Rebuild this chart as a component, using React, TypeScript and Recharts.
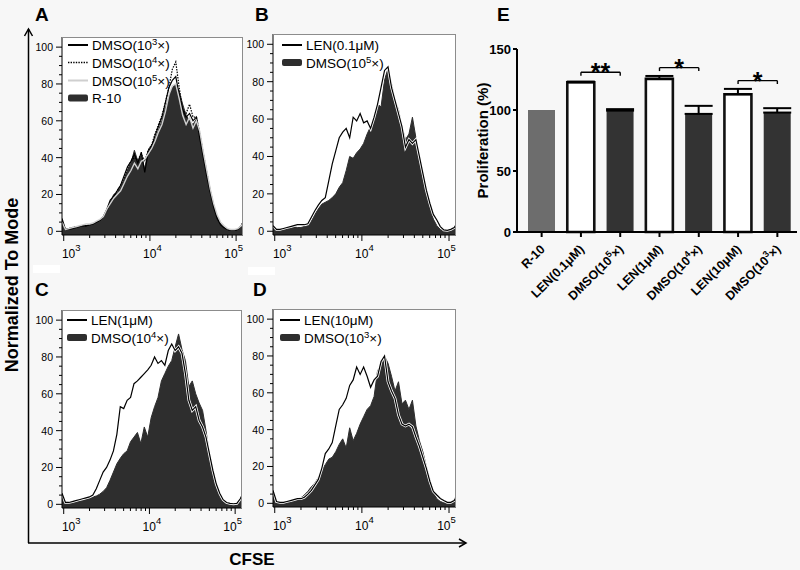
import React from "react";
import {
  Area,
  Bar,
  BarChart,
  Cell,
  ComposedChart,
  ErrorBar,
  Line,
  ReferenceLine,
  XAxis,
  YAxis,
} from "recharts";

const FONT = '"Liberation Sans", Arial, Helvetica, sans-serif';
const FILL_DARK = "#2e2e2e";

// CFSE bins (log10 of intensity)
const cfseLog = [
  2.98, 3.02, 3.06, 3.1, 3.14, 3.18, 3.22, 3.26, 3.3, 3.34, 3.38, 3.42, 3.46,
  3.5, 3.54, 3.58, 3.62, 3.66, 3.7, 3.74, 3.78, 3.82, 3.86, 3.9, 3.94, 3.98,
  4.02, 4.06, 4.1, 4.14, 4.18, 4.22, 4.26, 4.3, 4.34, 4.38, 4.42, 4.46, 4.5,
  4.54, 4.58, 4.62, 4.66, 4.7, 4.74, 4.78, 4.82, 4.86, 4.9, 4.94, 4.98, 5.02,
  5.06, 5.1,
];

// panel A
const aR10 = [
  6, 1, 1.5, 2, 2.5, 2.5, 3, 3, 3.5, 4, 5, 6, 8, 11, 16, 20, 21, 24, 28, 33,
  37, 44, 38, 41, 34, 44, 47, 50, 55, 60, 67, 73, 78, 80, 76, 69, 63, 60, 58,
  61, 52, 42, 32, 22, 14, 8, 4, 2, 1, 0.5, 0.5, 1, 3, 7,
];
const aDmso3 = [
  7, 1, 1, 1.5, 2, 2.5, 3, 3, 3.5, 4, 5, 6, 8, 12, 17, 19, 22, 25, 30, 35, 38,
  42, 37, 43, 32, 43, 46, 52, 57, 62, 70, 78, 82, 84, 74, 66, 62, 64, 60, 62,
  50, 40, 30, 21, 13, 7, 3.5, 2, 1, 0.5, 0.5, 1, 3, 7,
];
const aDmso4 = [
  6, 1, 1.5, 2, 2.5, 2.5, 3, 3, 3.5, 4, 5, 6, 8, 11, 15, 19, 22, 25, 29, 34,
  38, 40, 39, 42, 38, 44, 47, 53, 58, 63, 70, 78, 88, 92, 78, 66, 64, 69, 62,
  62, 53, 42, 32, 22, 14, 8, 4, 2, 1, 0.5, 0.5, 1, 3, 7,
];
const aDmso5 = [
  5, 1, 1.5, 2, 2.5, 3, 3.5, 4, 4, 4.5, 5.5, 6.5, 8, 12, 15, 18, 20, 22, 26,
  30, 33, 37, 34, 38, 39, 42, 45, 49, 54, 58, 65, 74, 79, 80, 72, 63, 58, 62,
  56, 60, 54, 43, 33, 23, 15, 9, 5, 3, 1.5, 1, 1, 1.5, 3, 6,
];

// panel B
const bDmso5 = [
  3, 1, 1, 1.5, 2, 2.5, 2.5, 2, 2, 2.5, 3, 5.5, 9, 12, 14.5, 15.5, 16.5, 18,
  20, 23.5, 26, 32.5, 40, 39, 42, 44, 47, 52, 56, 61, 68, 66.5, 81, 87, 79, 70,
  65, 56, 49, 52, 61, 50, 40, 31, 21, 13, 6.5, 3, 1, 0.5, 0.5, 1, 2, 5,
];
const bLen01 = [
  3, 1, 1, 1.5, 2, 2.5, 3, 3.5, 3.5, 3.5, 4, 7.5, 11, 14, 16.5, 18, 27, 36, 43,
  50, 53, 55, 50, 61, 59, 63, 58, 59, 55, 61, 68, 77, 86, 88, 77, 70, 63, 56,
  45, 49, 47, 49, 40, 31, 22, 15, 9, 6, 2.5, 0.7, 0.5, 1, 2, 5,
];

// panel C
const cDmso4 = [
  6, 1, 1, 1.5, 1.5, 2, 2.5, 3, 3.5, 4, 4.5, 5.5, 7, 9, 13, 17.5, 22, 25, 27.5,
  29, 34, 36.5, 39, 33, 42, 36.5, 47, 53, 58, 67, 71, 75, 78, 85.5, 92.5, 84,
  78, 64, 67, 60, 55, 51, 40, 27.5, 16.5, 9.5, 4, 1.5, 0.5, 0.3, 0.3, 0.5, 3, 7,
];
const cLen1 = [
  6, 1, 1, 1.5, 2, 2.5, 3, 3.5, 4, 5, 8.5, 13, 17.5, 20, 24, 29, 38, 53, 52,
  56.5, 58, 65.5, 67, 69, 71, 73, 75.5, 80, 76.5, 78, 75.5, 83.5, 87, 83.5,
  85.5, 82, 71, 56.5, 51, 53, 45.5, 42, 36.5, 27.5, 18.5, 11, 6, 2.5, 1, 0.5,
  0.3, 0.5, 3, 7,
];

// panel D
const dDmso3 = [
  7, 1, 0.5, 0.5, 1, 1.5, 2, 2.5, 3, 4.5, 6.5, 9, 11, 14, 18, 21, 24, 25, 28,
  32, 35, 30, 41, 34, 38, 43, 47, 51, 53, 58, 72, 75, 80, 76, 69, 61, 66, 54,
  56, 51, 56, 42, 34, 28, 20, 13, 6, 2.5, 1, 0.3, 0.3, 0.5, 2, 6,
];
const dLen10 = [
  7, 1, 0.5, 0.5, 1, 1.5, 2, 2.5, 2.5, 3.3, 5, 7, 10, 13, 19, 27, 29.5, 33, 42,
  51, 53.5, 57, 64, 67, 74, 70, 74, 69, 63, 67, 69, 77, 80, 66, 61, 57, 48, 43,
  42, 43, 41.5, 36, 31, 25, 19, 12, 6.5, 4.5, 2.6, 1.5, 0.5, 0.5, 1.5, 5,
];

const decades = [3, 4, 5];
const countTicks = [
  0, 5, 10, 15, 20, 25, 30, 35, 40, 45, 50, 55, 60, 65, 70, 75, 80, 85, 90, 95,
  100,
];

// panel E
const groups = [
  "R-10",
  "LEN(0.1μM)",
  "DMSO(10⁵×)",
  "LEN(1μM)",
  "DMSO(10⁴×)",
  "LEN(10μM)",
  "DMSO(10³×)",
];
const groupKind = ["ctrl", "len", "dmso", "len", "dmso", "len", "dmso"];
const proliferation = [100, 122.7, 99.5, 125.5, 96.8, 112.9, 97.9];
const proliferationErr = [0, 0.6, 1.2, 2.4, 6.6, 4.4, 3.6];
const proliferationTicks = [0, 50, 100, 150];

const sigFrom = ["LEN(0.1μM)", "LEN(1μM)", "LEN(10μM)"];
const sigTo = ["DMSO(10⁵×)", "DMSO(10⁴×)", "DMSO(10³×)"];
const sigLevel = [130.9, 134.7, 124.1];
const sigMark = ["**", "*", "*"];

const X_DOMAIN: [number, number] = [2.98, 5.08];
const Y_DOMAIN: [number, number] = [-2, 105.5];

const minorTicks = decades
  .slice(0, -1)
  .flatMap((d) => [2, 3, 4, 5, 6, 7, 8, 9].map((k) => d + Math.log10(k)));
const logTicks = [...decades, ...minorTicks].sort((a, b) => a - b);

const SUP: Record<string, string> = { "³": "3", "⁴": "4", "⁵": "5" };

function supSpans(text: string, size: number, supSize: number, rise: number) {
  const segs: { t: string; sup: boolean }[] = [];
  for (const ch of Array.from(text)) {
    const sup = ch in SUP;
    const c = sup ? SUP[ch] : ch;
    const last = segs[segs.length - 1];
    if (last && last.sup === sup) last.t += c;
    else segs.push({ t: c, sup });
  }
  return segs.map((s, i) => {
    const prevSup = i > 0 && segs[i - 1].sup;
    const dy = s.sup ? -rise : prevSup ? rise : 0;
    return (
      <tspan key={i} dy={dy} fontSize={s.sup ? supSize : size}>
        {s.t}
      </tspan>
    );
  });
}

function LogTick(props: any) {
  const { x, y, payload } = props;
  const v = payload.value as number;
  const major = Math.abs(v - Math.round(v)) < 1e-6;
  return (
    <g>
      <line x1={x} x2={x} y1={y} y2={y + (major ? 6 : 3)} stroke="#000" strokeWidth={1} />
      {major && (
        <text
          x={x + 2.5 - 5 * (v - 4)}
          y={y + 23}
          textAnchor="middle"
          fontFamily={FONT}
          fontSize={12}
          fill="#000"
        >
          10
          <tspan dy={-7} fontSize={9.5}>
            {v}
          </tspan>
        </text>
      )}
    </g>
  );
}

function CountTick(props: any) {
  const { x, y, payload } = props;
  const v = payload.value as number;
  const major = v % 20 === 0;
  return (
    <g>
      <line x1={x - (major ? 6 : 3)} x2={x} y1={y} y2={y} stroke="#000" strokeWidth={1} />
      {major && (
        <text x={x - 9} y={y + 4} textAnchor="end" fontFamily={FONT} fontSize={10.5} fill="#000">
          {v}
        </text>
      )}
    </g>
  );
}

function GroupTick(props: any) {
  const { x, y, payload } = props;
  return (
    <g transform={`translate(${x},${y})`}>
      <line x1={0} x2={0} y1={0} y2={5} stroke="#000" strokeWidth={2} />
      <text
        transform="translate(4,18) rotate(-45)"
        textAnchor="end"
        fontFamily={FONT}
        fontSize={12.5}
        fontWeight="bold"
        fill="#000"
      >
        {supSpans(payload.value, 12.5, 9, 5)}
      </text>
    </g>
  );
}

type HistLine = { key: string; stroke: string; dash?: string; halo?: boolean; width?: number };

function Histogram({
  left,
  top,
  width,
  height,
  series,
  fillKey,
  lines,
}: {
  left: number;
  top: number;
  width: number;
  height: number;
  series: Record<string, number[]>;
  fillKey: string;
  lines: HistLine[];
}) {
  const yW = 36;
  const pad = 4;
  const xH = 30;
  const rows = cfseLog.map((x, i) => {
    const row: Record<string, number> = { x };
    Object.keys(series).forEach((k) => (row[k] = series[k][i]));
    return row;
  });
  return (
    <div style={{ position: "absolute", left: left - yW, top: top - pad }}>
      <div
        style={{ position: "absolute", left: yW, top: pad, width, height, background: "#fff" }}
      />
      <div style={{ position: "absolute", left: 0, top: 0 }}>
        <ComposedChart
          width={yW + width + pad}
          height={pad + height + xH}
          data={rows}
          margin={{ top: pad, right: pad, bottom: 0, left: 0 }}
        >
          <XAxis
            type="number"
            dataKey="x"
            domain={X_DOMAIN}
            ticks={logTicks}
            interval={0}
            tickSize={0}
            tickMargin={0}
            tickLine={false}
            tick={LogTick}
            axisLine={{ stroke: "#000", strokeWidth: 1.2 }}
            height={xH}
            allowDataOverflow
          />
          <YAxis
            type="number"
            domain={Y_DOMAIN}
            ticks={countTicks}
            interval={0}
            tickSize={0}
            tickMargin={0}
            tickLine={false}
            tick={CountTick}
            axisLine={{ stroke: "#000", strokeWidth: 1 }}
            width={yW}
            allowDataOverflow
          />
          <Area
            dataKey={fillKey}
            type="linear"
            baseValue={Y_DOMAIN[0]}
            fill={FILL_DARK}
            fillOpacity={1}
            stroke={FILL_DARK}
            strokeWidth={1}
            dot={false}
            activeDot={false}
            isAnimationActive={false}
          />
          {lines
            .filter((l) => l.halo)
            .map((l) => (
              <Line
                key={l.key + "-halo"}
                dataKey={l.key}
                type="linear"
                stroke="#ffffff"
                strokeWidth={2.8}
                dot={false}
                activeDot={false}
                isAnimationActive={false}
              />
            ))}
          {lines.map((l) => (
            <Line
              key={l.key}
              dataKey={l.key}
              type="linear"
              stroke={l.stroke}
              strokeWidth={l.width ?? 1.2}
              strokeDasharray={l.dash}
              dot={false}
              activeDot={false}
              isAnimationActive={false}
            />
          ))}
        </ComposedChart>
      </div>
      <div
        style={{
          position: "absolute",
          left: yW,
          top: pad,
          width,
          height,
          borderTop: "1px solid #8c8c8c",
          borderRight: "1px solid #8c8c8c",
          boxSizing: "border-box",
          pointerEvents: "none",
        }}
      />
    </div>
  );
}

function ProliferationChart() {
  const rows = groups.map((name, i) => ({
    name,
    value: proliferation[i],
    err: proliferationErr[i] > 0 ? [0, proliferationErr[i]] : 0,
  }));
  const style: Record<string, { fill: string; stroke: string; strokeWidth: number }> = {
    ctrl: { fill: "#6d6d6d", stroke: "#6d6d6d", strokeWidth: 0 },
    len: { fill: "#ffffff", stroke: "#111111", strokeWidth: 2.6 },
    dmso: { fill: "#333333", stroke: "#333333", strokeWidth: 0 },
  };
  const brackets = sigFrom.flatMap((from, i) => {
    const to = sigTo[i];
    const yv = sigLevel[i];
    return [
      <ReferenceLine
        key={`h${i}`}
        segment={[
          { x: from, y: yv },
          { x: to, y: yv },
        ]}
        stroke="#000"
        strokeWidth={1.4}
        ifOverflow="visible"
        label={{
          value: sigMark[i],
          position: "top",
          offset: -9,
          fontSize: 25,
          fontWeight: "bold",
          fill: "#000",
          fontFamily: FONT,
        }}
      />,
      <ReferenceLine
        key={`l${i}`}
        segment={[
          { x: from, y: yv },
          { x: from, y: yv - 2.8 },
        ]}
        stroke="#000"
        strokeWidth={1.4}
        ifOverflow="visible"
      />,
      <ReferenceLine
        key={`r${i}`}
        segment={[
          { x: to, y: yv },
          { x: to, y: yv - 2.8 },
        ]}
        stroke="#000"
        strokeWidth={1.4}
        ifOverflow="visible"
      />,
    ];
  });
  return (
    <div style={{ position: "absolute", left: 465, top: 40 }}>
      <BarChart
        width={335}
        height={272}
        data={rows}
        margin={{ top: 9, right: 3, bottom: 0, left: 0 }}
      >
        <XAxis
          dataKey="name"
          type="category"
          interval={0}
          tickSize={0}
          tickMargin={0}
          tickLine={false}
          tick={GroupTick}
          axisLine={{ stroke: "#000", strokeWidth: 2 }}
          height={80}
          padding={{ left: 5, right: 0 }}
        />
        <YAxis
          type="number"
          domain={[0, 150]}
          ticks={proliferationTicks}
          interval={0}
          width={52}
          tickSize={4}
          tickMargin={2}
          axisLine={{ stroke: "#000", strokeWidth: 2 }}
          tickLine={{ stroke: "#000", strokeWidth: 2 }}
          tick={{ fill: "#000", fontSize: 13, fontWeight: "bold", fontFamily: FONT }}
          label={{
            value: "Proliferation (%)",
            angle: -90,
            position: "center",
            dx: -8,
            fontSize: 15,
            fontWeight: "bold",
            fill: "#000",
            fontFamily: FONT,
          }}
        />
        <Bar dataKey="value" barSize={27} isAnimationActive={false}>
          {rows.map((r, i) => (
            <Cell key={r.name} {...style[groupKind[i]]} />
          ))}
          <ErrorBar dataKey="err" width={14} stroke="#000" strokeWidth={2} direction="y" />
        </Bar>
        {brackets}
      </BarChart>
    </div>
  );
}

type LegendItem = { label: string; mark: "solid" | "dotted" | "gray" | "fill" };

function Legend({ x, y, items }: { x: number; y: number; items: LegendItem[] }) {
  const gap = [0, 17.5, 35.5, 53];
  return (
    <g>
      {items.map((it, i) => {
        const cy = y + gap[i];
        return (
          <g key={it.label + i}>
            {it.mark === "fill" ? (
              <rect x={x} y={cy - 3.5} width={20} height={7} rx={2} fill={FILL_DARK} />
            ) : (
              <line
                x1={x}
                x2={x + 20}
                y1={cy}
                y2={cy}
                stroke={it.mark === "gray" ? "#cfcfcf" : "#000"}
                strokeWidth={it.mark === "dotted" ? 1.4 : 2}
                strokeDasharray={it.mark === "dotted" ? "1.4 1.2" : undefined}
              />
            )}
            <text x={x + 24} y={cy + 5} fontFamily={FONT} fontSize={13.5} fill="#000">
              {supSpans(it.label, 13.5, 9.5, 5)}
            </text>
          </g>
        );
      })}
    </g>
  );
}

function Decorations() {
  const letter = { fontFamily: FONT, fontSize: 19, fontWeight: "bold" as const, fill: "#000" };
  return (
    <svg
      width={800}
      height={570}
      style={{ position: "absolute", left: 0, top: 0, pointerEvents: "none" }}
    >
      <rect x={33} y={265} width={27} height={8} fill="#fff" />
      <rect x={248} y={267} width={27} height={8} fill="#fff" />
      <text x={35} y={21} {...letter}>A</text>
      <text x={255} y={21} {...letter}>B</text>
      <text x={35} y={296} {...letter}>C</text>
      <text x={253} y={296} {...letter}>D</text>
      <text x={497} y={21} {...letter}>E</text>

      <line x1={28.5} y1={543} x2={28.5} y2={29} stroke="#000" strokeWidth={1.5} />
      <polyline points="24.5,36 28.5,29 32.5,36" fill="none" stroke="#000" strokeWidth={1.5} />
      <line x1={28} y1={543} x2={466} y2={543} stroke="#000" strokeWidth={1.5} />
      <polyline points="459,539 466,543 459,547" fill="none" stroke="#000" strokeWidth={1.5} />

      <text
        transform="translate(18,285) rotate(-90)"
        textAnchor="middle"
        fontFamily={FONT}
        fontSize={18}
        fontWeight="bold"
        fill="#000"
      >
        Normalized To Mode
      </text>
      <text x={252} y={565} textAnchor="middle" fontFamily={FONT} fontSize={17} fontWeight="bold" fill="#000">
        CFSE
      </text>

      <Legend
        x={68}
        y={45}
        items={[
          { label: "DMSO(10³×)", mark: "solid" },
          { label: "DMSO(10⁴×)", mark: "dotted" },
          { label: "DMSO(10⁵×)", mark: "gray" },
          { label: "R-10", mark: "fill" },
        ]}
      />
      <Legend
        x={282}
        y={45}
        items={[
          { label: "LEN(0.1μM)", mark: "solid" },
          { label: "DMSO(10⁵×)", mark: "fill" },
        ]}
      />
      <Legend
        x={67}
        y={320}
        items={[
          { label: "LEN(1μM)", mark: "solid" },
          { label: "DMSO(10⁴×)", mark: "fill" },
        ]}
      />
      <Legend
        x={280}
        y={320}
        items={[
          { label: "LEN(10μM)", mark: "solid" },
          { label: "DMSO(10³×)", mark: "fill" },
        ]}
      />
    </svg>
  );
}

export default function App() {
  return (
    <div
      style={{
        position: "absolute",
        left: 0,
        top: 0,
        width: 800,
        height: 570,
        background: "#f7f7f7",
        overflow: "hidden",
        fontFamily: FONT,
      }}
    >
      <Histogram
        left={62}
        top={37}
        width={181}
        height={198}
        series={{ r10: aR10, dmso3: aDmso3, dmso4: aDmso4, dmso5: aDmso5 }}
        fillKey="r10"
        lines={[
          { key: "dmso3", stroke: "#000" },
          { key: "dmso4", stroke: "#000", dash: "1.5 1.2" },
          { key: "dmso5", stroke: "#d0d0d0", width: 1.4 },
        ]}
      />
      <Histogram
        left={273}
        top={34}
        width={183}
        height={201}
        series={{ dmso5: bDmso5, len01: bLen01 }}
        fillKey="dmso5"
        lines={[{ key: "len01", stroke: "#000", halo: true }]}
      />
      <Histogram
        left={62}
        top={310}
        width={180}
        height={198}
        series={{ dmso4: cDmso4, len1: cLen1 }}
        fillKey="dmso4"
        lines={[{ key: "len1", stroke: "#000", halo: true }]}
      />
      <Histogram
        left={273}
        top={309}
        width={183}
        height={198}
        series={{ dmso3: dDmso3, len10: dLen10 }}
        fillKey="dmso3"
        lines={[{ key: "len10", stroke: "#000", halo: true }]}
      />
      <ProliferationChart />
      <Decorations />
    </div>
  );
}
